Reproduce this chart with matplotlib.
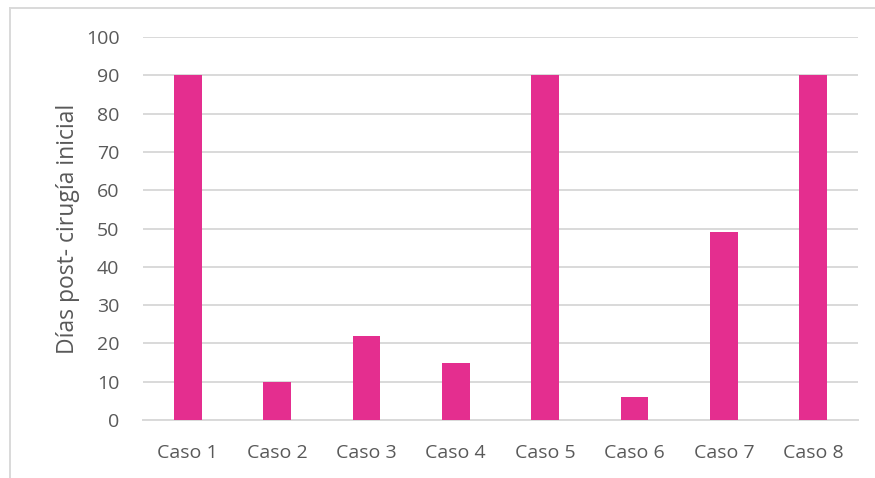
import matplotlib.pyplot as plt
import matplotlib.ticker as mticker
from matplotlib.lines import Line2D

# Datos
casos = ["Caso 1", "Caso 2", "Caso 3", "Caso 4", "Caso 5", "Caso 6", "Caso 7", "Caso 8"]
dias = [90, 10, 22, 15, 90, 6, 49, 90]

plt.rcParams['font.family'] = ['Open Sans', 'DejaVu Sans']
gris_texto = '#595959'
gris_rejilla = '#D9D9D9'
rosa = '#E42E8F'

fig = plt.figure(figsize=(8.75, 4.78), dpi=100)
ax = fig.add_axes([0.1634, 0.1213, 0.8172, 0.8013])

ax.bar(range(len(casos)), dias, width=0.31, color=rosa, zorder=3)

ax.set_xlim(-0.5, len(casos) - 0.5)
ax.set_ylim(0, 100)
ax.yaxis.set_major_locator(mticker.MultipleLocator(10))
ax.set_xticks(range(len(casos)))
ax.set_xticklabels(casos)

ax.grid(axis="y", color=gris_rejilla, linewidth=1.4, zorder=0)
for lado in ["top", "right", "left"]:
    ax.spines[lado].set_visible(False)
ax.spines["bottom"].set_color(gris_rejilla)
ax.spines["bottom"].set_linewidth(1.4)
ax.tick_params(axis="both", length=0, labelsize=14, colors=gris_texto)
ax.tick_params(axis="x", pad=17)
ax.tick_params(axis="y", pad=17)

ax.set_ylabel("Días post- cirugía inicial", fontsize=16.5, color=gris_texto, labelpad=4)

# Marco del area del grafico
fig.add_artist(Line2D([9.5 / 875, 9.5 / 875], [0, 1 - 8 / 478], color=gris_rejilla, linewidth=1.4))
fig.add_artist(Line2D([9.5 / 875, 1], [1 - 8 / 478, 1 - 8 / 478], color=gris_rejilla, linewidth=1.4))

fig.savefig("out.png", dpi=100, facecolor="white")
